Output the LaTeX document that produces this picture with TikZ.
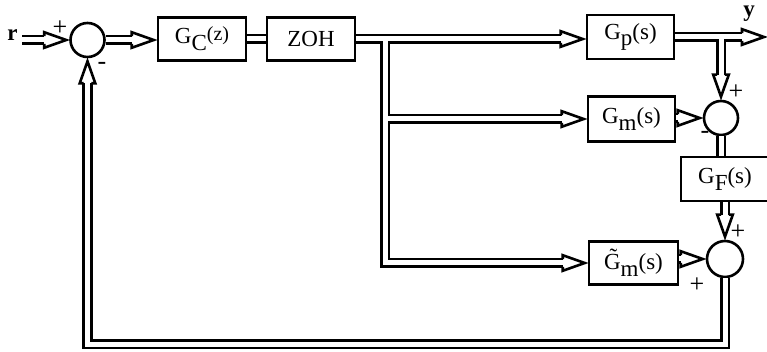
\documentclass[tikz,border=0pt]{standalone}
\usepackage{fontspec}
\setmainfont{Liberation Serif}
\newcommand{\sbs}[1]{\raisebox{-0.3em}{#1}}
\begin{document}
\begin{tikzpicture}[x=1pt,y=-1pt,
  blk/.style={draw,line width=2.6pt,minimum width=88pt,minimum height=43pt,inner sep=0pt,font=\fontsize{23}{25}\selectfont},
  sumc/.style={draw,circle,line width=2.6pt,minimum size=34pt,inner sep=0pt},
  dbl/.style={draw,line width=2.6pt,double=white,double distance=5pt},
  sgn/.style={font=\fontsize{26}{27}\selectfont,inner sep=0pt},
  lbl/.style={font=\bfseries\fontsize{23}{25}\selectfont,inner sep=0pt,anchor=base},
  ahead/.pic={\draw[line width=2.6pt,line join=miter,miter limit=5] (-25,3.8) -- (-25,7.8) -- (-3,0) -- (-25,-7.8) -- (-25,-3.8);}
]
\useasboundingbox (0,0) rectangle (767,352);
% nodes
\node[sumc] (s1) at (87.5,40) {};
\node[blk] (gc) at (202,39) {G\sbs{C}\raisebox{0.12em}{\fontsize{20}{20}\selectfont(z)}};
\node[blk] (zoh) at (311,39) {ZOH};
\node[blk,minimum width=87pt,minimum height=44pt] (gp) at (630.5,37) {G\sbs{p}(s)};
\node[blk,minimum width=87pt,minimum height=45pt] (gm) at (631.5,119) {G\sbs{m}(s)};
\node[blk,minimum width=89pt,minimum height=43pt] (gmt) at (633.5,263) {\~{G}\sbs{m}(s)};
\node[blk,minimum width=88pt,minimum height=44pt] (gf) at (725,179) {G\sbs{F}(s)};
\node[sumc] (s2) at (721,118) {};
\node[sumc,minimum size=36pt] (s3) at (725,259) {};
\coordinate (rin) at (22,40);
\coordinate (br) at (385,39);
\coordinate (yend) at (767,37);
\coordinate (fb) at (87.5,344);
% labels
\node[lbl] (r) at (12.5,41) {r};
\node[lbl] (y) at (749,17) {y};
\node[sgn] (p1) at (60,28) {+};
\node[sgn] (m1) at (102,66) {-};
\node[sgn] (p2) at (736,92) {+};
\node[sgn] (m2) at (705,135) {-};
\node[sgn] (p3) at (738,232) {+};
\node[sgn] (p4) at (697,285) {+};
% connectors
\draw[dbl] (rin) -- ([xshift=-25pt]s1.west);
\pic at (s1.west) {ahead};
\draw[dbl] (s1.east) -- ([xshift=-25pt]gc.west |- s1.east);
\pic at (gc.west |- s1.east) {ahead};
\draw[dbl] (gc.east) -- (zoh.west);
\draw[dbl] (zoh.east) -- ([xshift=-25pt]gp.west |- zoh.east)
  (br) |- ([xshift=-25pt]gm.west)
  (br) |- ([xshift=-25pt]gmt.west);
\pic at (gp.west |- zoh.east) {ahead};
\pic at (gm.west) {ahead};
\pic at (gmt.west) {ahead};
\draw[dbl] (gp.east) -- ([xshift=-25pt]yend)
  (s2.north |- gp.east) -- ([yshift=25pt]s2.north);
\pic at (yend) {ahead};
\pic[rotate=-90] at (s2.north) {ahead};
\draw[dbl] (gm.east |- s2.west) -- ([xshift=-25pt]s2.west);
\pic at (s2.west) {ahead};
\draw[dbl] (s2.south) -- (s2.south |- gf.north);
\draw[dbl] (gf.south -| s3.north) -- ([yshift=25pt]s3.north);
\pic[rotate=-90] at (s3.north) {ahead};
\draw[dbl] (gmt.east |- s3.west) -- ([xshift=-25pt]s3.west);
\pic at (s3.west) {ahead};
\draw[dbl] (s3.south) |- (fb) -- ([yshift=-25pt]s1.south);
\pic[rotate=90] at (s1.south) {ahead};
\end{tikzpicture}
\end{document}
